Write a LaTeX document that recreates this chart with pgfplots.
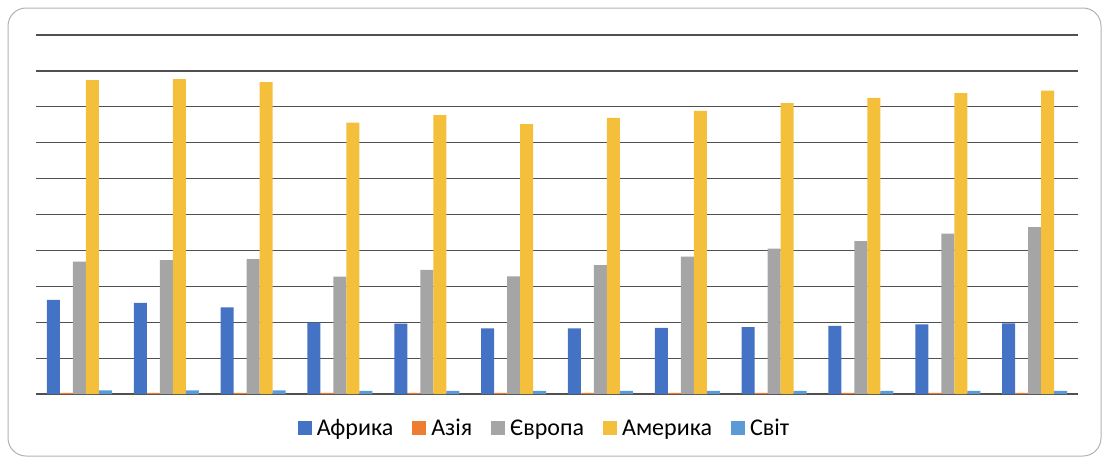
\documentclass[border=0pt]{standalone}
\usepackage{pgfplots}
\pgfplotsset{compat=1.18}
\usepackage{fontspec}
\setmainfont{Carlito}

\definecolor{cAfr}{HTML}{4472C4}
\definecolor{cAsia}{HTML}{ED7D31}
\definecolor{cEur}{HTML}{A5A5A5}
\definecolor{cAm}{HTML}{F4C03C}
\definecolor{cWorld}{HTML}{5B9BD5}
\definecolor{gridc}{HTML}{505050}

\begin{document}
\begin{tikzpicture}
  % picture frame: 1103 x 459, axis origin at the lower-left of the plot area
  \path[use as bounding box] (-36pt,-65pt) rectangle (1067pt,394pt);
  \draw[color=black!30, line width=1pt, rounded corners=18pt]
    (-28pt,-62pt) rectangle (1065pt,386pt);

  \begin{axis}[
      at={(0pt,0pt)}, anchor=origin,
      scale only axis,
      width=1042pt, height=359pt,
      xmin=0.5, xmax=12.5,
      ymin=0, ymax=10,
      axis line style={draw=none},
      xtick=\empty,
      ytick={0,1,...,10},
      yticklabels={},
      major tick length=0pt,
      ymajorgrids,
      grid style={gridc, line width=1.2pt},
      ybar=0pt,
      bar width=13pt,
      legend columns=-1,
      legend style={draw=none, fill=none,
        at={(rel axis cs:0.488,-0.095)}, anchor=center,
        font=\fontsize{24}{28}\selectfont,
        /tikz/every even column/.append style={column sep=17pt},
        /tikz/every odd column/.append style={column sep=3pt}},
      legend image code/.code={
        \fill[#1] (0pt,-7pt) rectangle (14pt,7pt);},
    ]

    % Африка
    \addplot[fill=cAfr, draw=none] coordinates {
      (1,2.62) (2,2.54) (3,2.41) (4,1.99) (5,1.96) (6,1.83)
      (7,1.83) (8,1.84) (9,1.86) (10,1.90) (11,1.94) (12,1.97)};
    % Азія
    \addplot[fill=cAsia, draw=none] coordinates {
      (1,0.03) (2,0.03) (3,0.03) (4,0.03) (5,0.03) (6,0.03)
      (7,0.03) (8,0.03) (9,0.03) (10,0.03) (11,0.03) (12,0.03)};
    % Європа
    \addplot[fill=cEur, draw=none] coordinates {
      (1,3.69) (2,3.73) (3,3.76) (4,3.27) (5,3.46) (6,3.28)
      (7,3.59) (8,3.83) (9,4.05) (10,4.26) (11,4.47) (12,4.65)};
    % Америка
    \addplot[fill=cAm, draw=none] coordinates {
      (1,8.74) (2,8.77) (3,8.69) (4,7.56) (5,7.77) (6,7.52)
      (7,7.69) (8,7.89) (9,8.10) (10,8.25) (11,8.38) (12,8.45)};
    % Світ
    \addplot[fill=cWorld, draw=none] coordinates {
      (1,0.10) (2,0.10) (3,0.10) (4,0.09) (5,0.09) (6,0.09)
      (7,0.09) (8,0.09) (9,0.09) (10,0.09) (11,0.09) (12,0.09)};

    \legend{Африка, Азія, Європа, Америка, Світ}
  \end{axis}
\end{tikzpicture}
\end{document}
